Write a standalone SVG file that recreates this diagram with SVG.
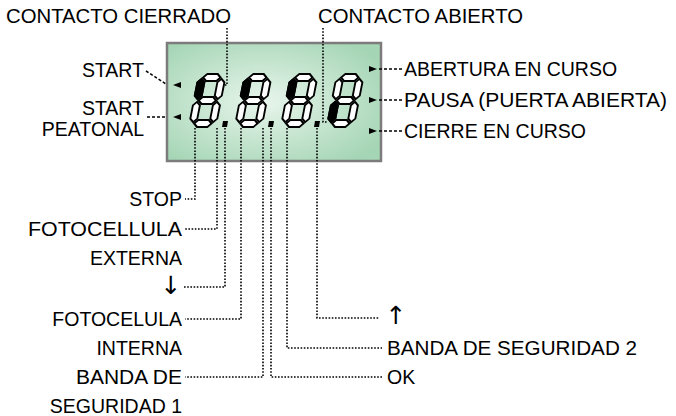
<svg xmlns="http://www.w3.org/2000/svg" xmlns:xlink="http://www.w3.org/1999/xlink" width="676" height="416" viewBox="0 0 676 416">
<defs>
<style>
text{font-family:"Liberation Sans",Arial,sans-serif;font-size:19.5px;fill:#000}
.r{text-anchor:end}
.arw{font-family:"DejaVu Sans",sans-serif;font-size:25px;text-anchor:middle;fill:#000}
.dot{fill:none;stroke:#000;stroke-width:1.6;stroke-dasharray:1.6 1.6}
.dash{fill:none;stroke:#000;stroke-width:1.5;stroke-dasharray:3 2}
.seg{fill:#fff;stroke:#000;stroke-width:1.9;stroke-linejoin:miter}
.on{fill:#000;stroke:#000;stroke-width:1.9}
.ah{fill:#000}
</style>
<radialGradient id="lcd" cx="0.45" cy="0.5" r="0.65">
<stop offset="0" stop-color="#e8f5ec"/>
<stop offset="1" stop-color="#a4d5b4"/>
</radialGradient>
<g id="dg">
<polygon class="seg" points="4.8,3.5 8.3,0 18.7,0 22.2,3.5 18.7,7 8.3,7"/>
<polygon class="seg" points="4.8,26.5 8.3,23 18.7,23 22.2,26.5 18.7,30 8.3,30"/>
<polygon class="seg" points="4.8,49.5 8.3,46 18.7,46 22.2,49.5 18.7,53 8.3,53"/>
<polygon class="seg" points="3.5,4.8 7,8.3 7,21.7 3.5,25.2 0,21.7 0,8.3"/>
<polygon class="seg" points="23.5,4.8 27,8.3 27,21.7 23.5,25.2 20,21.7 20,8.3"/>
<polygon class="seg" points="3.5,27.8 7,31.3 7,44.7 3.5,48.2 0,44.7 0,31.3"/>
<polygon class="seg" points="23.5,27.8 27,31.3 27,44.7 23.5,48.2 20,44.7 20,31.3"/>
</g>
</defs>

<g id="display">
<rect x="167" y="43" width="214" height="118" fill="url(#lcd)" stroke="#7c7c7c" stroke-width="2.5"/>
<g id="digit1" transform="translate(199,74) skewX(-11)">
<use xlink:href="#dg"/>
<polygon class="on" points="3.5,4.8 7,8.3 7,21.7 3.5,25.2 0,21.7 0,8.3"/>
</g>
<g id="digit2" transform="translate(245,74) skewX(-11)">
<use xlink:href="#dg"/>
<polygon class="on" points="3.5,4.8 7,8.3 7,21.7 3.5,25.2 0,21.7 0,8.3"/>
</g>
<g id="digit3" transform="translate(291,74) skewX(-11)">
<use xlink:href="#dg"/>
<polygon class="on" points="3.5,4.8 7,8.3 7,21.7 3.5,25.2 0,21.7 0,8.3"/>
</g>
<g id="digit4" transform="translate(337,74) skewX(-11)">
<use xlink:href="#dg"/>
<polygon class="on" points="3.5,27.8 7,31.3 7,44.7 3.5,48.2 0,44.7 0,31.3"/>
</g>
<polygon class="ah" points="223,121 228,121 227,127 222,127"/>
<polygon class="ah" points="269,121 274,121 273,127 268,127"/>
<polygon class="ah" points="315,121 320,121 319,127 314,127"/>
<polygon class="ah" points="173,85 181,82 181,88"/>
<polygon class="ah" points="173,117 181,114 181,120"/>
<polygon class="ah" points="377,69 369,66 369,72"/>
<polygon class="ah" points="377,100 369,97 369,103"/>
<polygon class="ah" points="377,131 369,128 369,134"/>
</g>

<g id="connectors">
<path class="dot" d="M227,28 V85 H223"/>
<path class="dot" d="M323,28 V122 H328"/>
<path class="dot" d="M195,128 V199 H185"/>
<path class="dot" d="M217,128 V229 H185"/>
<path class="dot" d="M225,128 V287 H184"/>
<path class="dot" d="M241,128 V319 H185"/>
<path class="dot" d="M263,128 V377 H185"/>
<path class="dot" d="M271,128 V377 H382"/>
<path class="dot" d="M287,128 V348 H382"/>
<path class="dot" d="M317,128 V318 H379"/>
<path class="dash" d="M146,71 L166,84"/>
<path class="dash" d="M147,117 H166"/>
<path class="dash" d="M379,69 H402"/>
<path class="dash" d="M379,100 H402"/>
<path class="dash" d="M379,131 H402"/>
</g>

<g id="lbl-contacto-cerrado"><text x="6" y="23" textLength="225" lengthAdjust="spacingAndGlyphs">CONTACTO CIERRADO</text></g>
<g id="lbl-contacto-abierto"><text x="318" y="23" textLength="205" lengthAdjust="spacingAndGlyphs">CONTACTO ABIERTO</text></g>
<g id="lbl-start"><text class="r" x="144" y="77">START</text></g>
<g id="lbl-start-peatonal"><text class="r" x="144" y="115">START</text><text class="r" x="144" y="136">PEATONAL</text></g>
<g id="lbl-abertura"><text x="404" y="76">ABERTURA EN CURSO</text></g>
<g id="lbl-pausa"><text x="404" y="107" textLength="263" lengthAdjust="spacingAndGlyphs">PAUSA (PUERTA ABIERTA)</text></g>
<g id="lbl-cierre"><text x="404" y="138">CIERRE EN CURSO</text></g>
<g id="lbl-stop"><text class="r" x="182" y="206">STOP</text></g>
<g id="lbl-fotocellula"><text x="28" y="236" textLength="154" lengthAdjust="spacingAndGlyphs">FOTOCELLULA</text><text class="r" x="182" y="265">EXTERNA</text></g>
<g id="lbl-down"><text class="arw" x="171" y="294">↓</text></g>
<g id="lbl-fotocelula"><text class="r" x="182" y="326">FOTOCELULA</text><text class="r" x="182" y="355">INTERNA</text></g>
<g id="lbl-banda1"><text x="76" y="384" textLength="106" lengthAdjust="spacingAndGlyphs">BANDA DE</text><text class="r" x="182" y="413">SEGURIDAD 1</text></g>
<g id="lbl-up"><text class="arw" x="396" y="324">↑</text></g>
<g id="lbl-banda2"><text x="387" y="355" textLength="250" lengthAdjust="spacingAndGlyphs">BANDA DE SEGURIDAD 2</text></g>
<g id="lbl-ok"><text x="387" y="384">OK</text></g>
</svg>
